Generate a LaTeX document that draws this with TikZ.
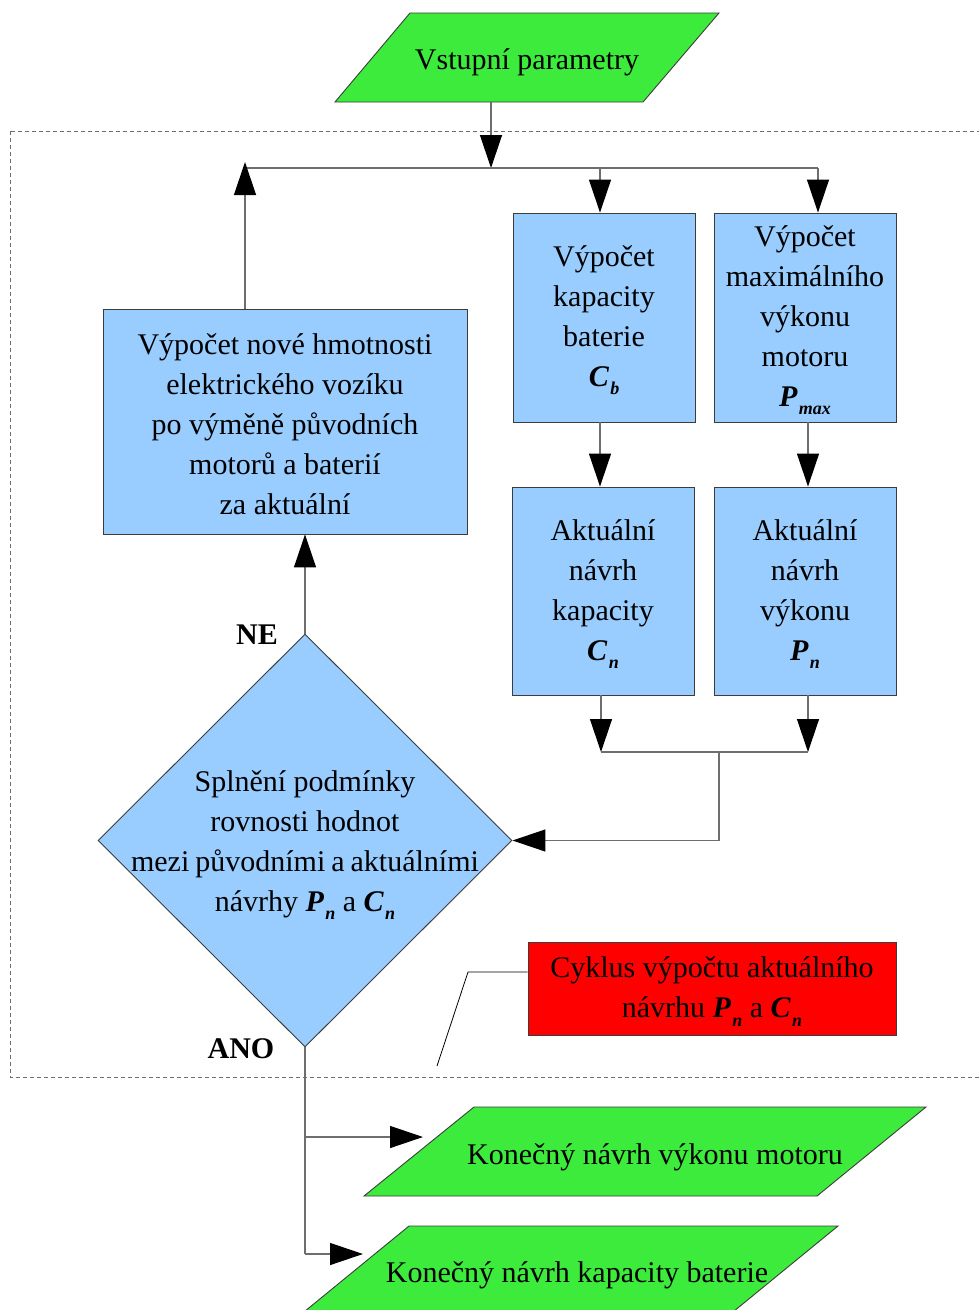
\documentclass[tikz,border=0pt]{standalone}
\usepackage{fontspec}
\setmainfont{Liberation Serif}
\newfontfamily\timesf{Liberation Serif}
\usetikzlibrary{arrows.meta,shapes.geometric}
\definecolor{fgreen}{HTML}{3DEB3D}
\definecolor{fblue}{HTML}{99CCFF}
\definecolor{fred}{HTML}{FF0000}
\definecolor{lgray}{HTML}{6E6E6E}
\definecolor{bgray}{HTML}{3C3C3C}
\newcommand\bvar[2]{{\bfseries\itshape #1\kern1.5pt\raisebox{-0.6ex}{\fontsize{18}{18}\selectfont #2}}}
\begin{document}
\begin{tikzpicture}[x=1pt,y=-1pt,
  every node/.style={font=\timesf\fontsize{30}{40}\selectfont, align=center, inner sep=0pt, text=black},
  box/.style={draw=bgray, line width=0.9pt, fill=fblue},
  para/.style={draw=bgray, line width=0.9pt, fill=fgreen},
  conn/.style={draw=lgray, line width=1.3pt},
  arr/.style={conn, -{Triangle[length=33pt,width=22pt,color=black]}},
  lbl/.style={font=\timesf\fontsize{30}{34}\selectfont\bfseries},
  txt/.style={yshift=-3pt}]
\useasboundingbox (0,0) rectangle (979,1310);
\clip (0,0) rectangle (979,1310);
\fill[white] (0,0) rectangle (979,1310);

% dashed frame
\draw[draw=lgray, line width=1pt, dash pattern=on 4pt off 3pt] (10,131) rectangle (995,1077);

% input parallelogram
\draw[para] (410,13) -- (719,13) -- (643,102) -- (335,102) -- cycle;
\node[txt] (vin) at (527,59) {Vstupní parametry};

% boxes
\node[box, minimum width=182pt, minimum height=209pt] (cb) at (604,317.5) {};
\node[txt] (cbt) at (cb) {Výpočet\\kapacity\\baterie\\\bvar{C}{b}};
\node[box, minimum width=182pt, minimum height=209pt] (pm) at (805,317.5) {};
\node[txt] (pmt) at (pm) {Výpočet\\maximálního\\výkonu\\motoru\\\bvar{P}{max}};
\node[box, minimum width=182pt, minimum height=208pt] (cn) at (603,591) {};
\node[txt] (cnt) at (cn) {Aktuální\\návrh\\kapacity\\\bvar{C}{n}};
\node[box, minimum width=182pt, minimum height=208pt] (pn) at (805,591) {};
\node[txt] (pnt) at (pn) {Aktuální\\návrh\\výkonu\\\bvar{P}{n}};
\node[box, minimum width=364pt, minimum height=225pt] (lb) at (285,421.5) {};
\node[txt] (lbt) at (lb) {Výpočet nové hmotnosti\\elektrického vozíku\\po výměně původních\\motorů a baterií\\za aktuální};

% diamond
\node[box, diamond, minimum width=414pt, minimum height=413pt] (dm) at (305,840.5) {};
\node[txt] (dmt) at (305,842) {Splnění podmínky\\rovnosti hodnot\\\spaceskip=0.2em plus 0.05em mezi původními a aktuálními\\návrhy \bvar{P}{n} a \bvar{C}{n}};

% red note
\node[draw=bgray, line width=0.9pt, fill=fred, minimum width=368pt, minimum height=93pt] (rb) at (712,988.5) {};
\node[txt] (rbt) at (rb) {Cyklus výpočtu aktuálního\\návrhu \bvar{P}{n} a \bvar{C}{n}};
\coordinate (c1) at (468,972);
\coordinate (c2) at (437,1066);
\draw[black, line width=0.8pt] (rb.west |- c1) -- (c1) -- (c2);

% output parallelograms
\draw[para] (474,1107) -- (926,1107) -- (817,1196) -- (364,1196) -- cycle;
\node[txt] (o1) at (655,1154) {Konečný návrh výkonu motoru};
\draw[para] (409,1226) -- (838,1226) -- (728,1316) -- (299,1316) -- cycle;
\node[txt] (o2) at (577,1272) {Konečný návrh kapacity baterie};

% labels
\node[lbl] (ne) at (257,635) {NE};
\node[lbl] (ano) at (241,1049) {ANO};

% connectors
\coordinate (vinS) at (491,102);
\coordinate (top) at (491,168);
\coordinate (hl) at (245,168);
\coordinate (hr) at (818,168);
\coordinate (h1) at (600,168);
\coordinate (lbtop) at (245,162);
\draw[arr] (vinS) -- (top);
\draw[conn] (hl) -- (hr);
\draw[arr] (h1) -- (h1 |- cb.north);
\draw[arr] (hr) -- (hr |- pm.north);
\draw[arr] (lbtop |- lb.north) -- (lbtop);

\coordinate (v1) at (600,500);
\coordinate (v2) at (808,500);
\draw[arr] (v1 |- cb.south) -- (v1 |- cn.north);
\draw[arr] (v2 |- pm.south) -- (v2 |- pn.north);

\coordinate (m1) at (601,752);
\coordinate (m2) at (808,752);
\coordinate (m3) at (719,752);
\draw[arr] (m1 |- cn.south) -- (m1);
\draw[arr] (m2 |- pn.south) -- (m2);
\draw[conn] (m1) -- (m2);
\draw[arr] (m3) -- (m3 |- dm.east) -- (dm.east);

\draw[arr] (dm.north) -- (dm.north |- lb.south);

\coordinate (b1) at (305,1137);
\coordinate (b2) at (305,1254);
\coordinate (t1) at (423,1137);
\coordinate (t2) at (363,1254);
\draw[conn] (dm.south) -- (b2);
\draw[arr] (b1) -- (t1);
\draw[arr] (b2) -- (t2);
\end{tikzpicture}
\end{document}
